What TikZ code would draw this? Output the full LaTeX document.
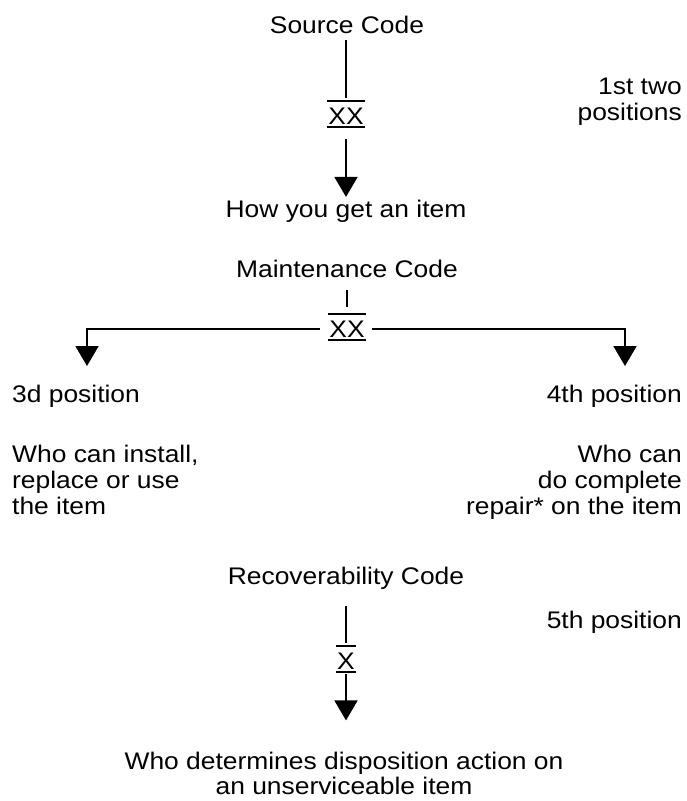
\documentclass[tikz,border=0pt]{standalone}
\usepackage{fontspec}
\setmainfont{Liberation Sans}[FakeStretch=1.1]
\usetikzlibrary{arrows.meta}
\begin{document}
\begin{tikzpicture}[x=1pt,y=-1pt,
  lbl/.style={inner sep=0pt, font=\fontsize{24}{26}\selectfont},
  codebox/.style={lbl, inner xsep=1.5pt, inner ysep=3pt, anchor=base},
  conn/.style={line width=1.9pt},
  arr/.style={conn, -{Triangle[width=23pt,length=20pt]}},
  bar/.style={line width=1.9pt}
]
\useasboundingbox (0,0) rectangle (686,801);

% --- Source code
\node[lbl, anchor=base] (src) at (347,33) {Source Code};
\node[codebox] (xx1) at (346,124) {XX};
\draw[bar] ([yshift=3pt]xx1.north west) -- ([yshift=3pt]xx1.north east);
\draw[bar] (xx1.south west) -- (xx1.south east);
\node[lbl, anchor=base east] (two1) at (682,94) {1st two};
\node[lbl, anchor=base east] (two2) at (682,120) {positions};
\node[lbl, anchor=base] (how) at (346,217) {How you get an item};
\draw[conn, shorten <=7pt, shorten >=6pt] (src.south -| xx1.north) -- (xx1.north);
\draw[arr, shorten <=12pt, shorten >=2.5pt] (xx1.south) -- (how.north -| xx1.south);

% --- Maintenance code
\node[lbl, anchor=base] (mc) at (347,277) {Maintenance Code};
\node[codebox] (xx2) at (347,337) {XX};
\draw[bar] ([yshift=3pt]xx2.north west) -- ([yshift=3pt]xx2.north east);
\draw[bar] (xx2.south west) -- (xx2.south east);
\draw[conn, shorten <=13pt, shorten >=10pt] (mc.south -| xx2.north) -- (xx2.north);
\coordinate (la) at (87,366);
\coordinate (ra) at (625,366);
\draw[arr, shorten <=8pt] (xx2.west) -| (la);
\draw[arr, shorten <=6pt] (xx2.east) -| (ra);

\node[lbl, anchor=base west] (p3) at (12,402) {3d position};
\node[lbl, anchor=base east] (p4) at (682,402) {4th position};
\node[lbl, anchor=base west] (l1) at (12,462) {Who can install,};
\node[lbl, anchor=base west] (l2) at (12,488) {replace or use};
\node[lbl, anchor=base west] (l3) at (12,514) {the item};
\node[lbl, anchor=base east] (r1) at (682,462) {Who can};
\node[lbl, anchor=base east] (r2) at (682,488) {do complete};
\node[lbl, anchor=base east] (r3) at (682,514) {repair* on the item};

% --- Recoverability code
\node[lbl, anchor=base] (rc) at (346,584) {Recoverability Code};
\node[lbl, anchor=base east] (p5) at (682,628) {5th position};
\node[codebox, inner xsep=1pt] (x3) at (346,669) {X};
\draw[bar] ([yshift=3pt]x3.north west) -- ([yshift=3pt]x3.north east);
\draw[bar] (x3.south west) -- (x3.south east);
\node[lbl, anchor=base] (det1) at (344,769) {Who determines disposition action on};
\node[lbl, anchor=base] (det2) at (344,794) {an unserviceable item};
\draw[conn, shorten <=17pt, shorten >=6pt] (rc.south -| x3.north) -- (x3.north);
\draw[arr, shorten <=2pt, shorten >=31pt] (x3.south) -- (det1.north -| x3.south);
\end{tikzpicture}
\end{document}
